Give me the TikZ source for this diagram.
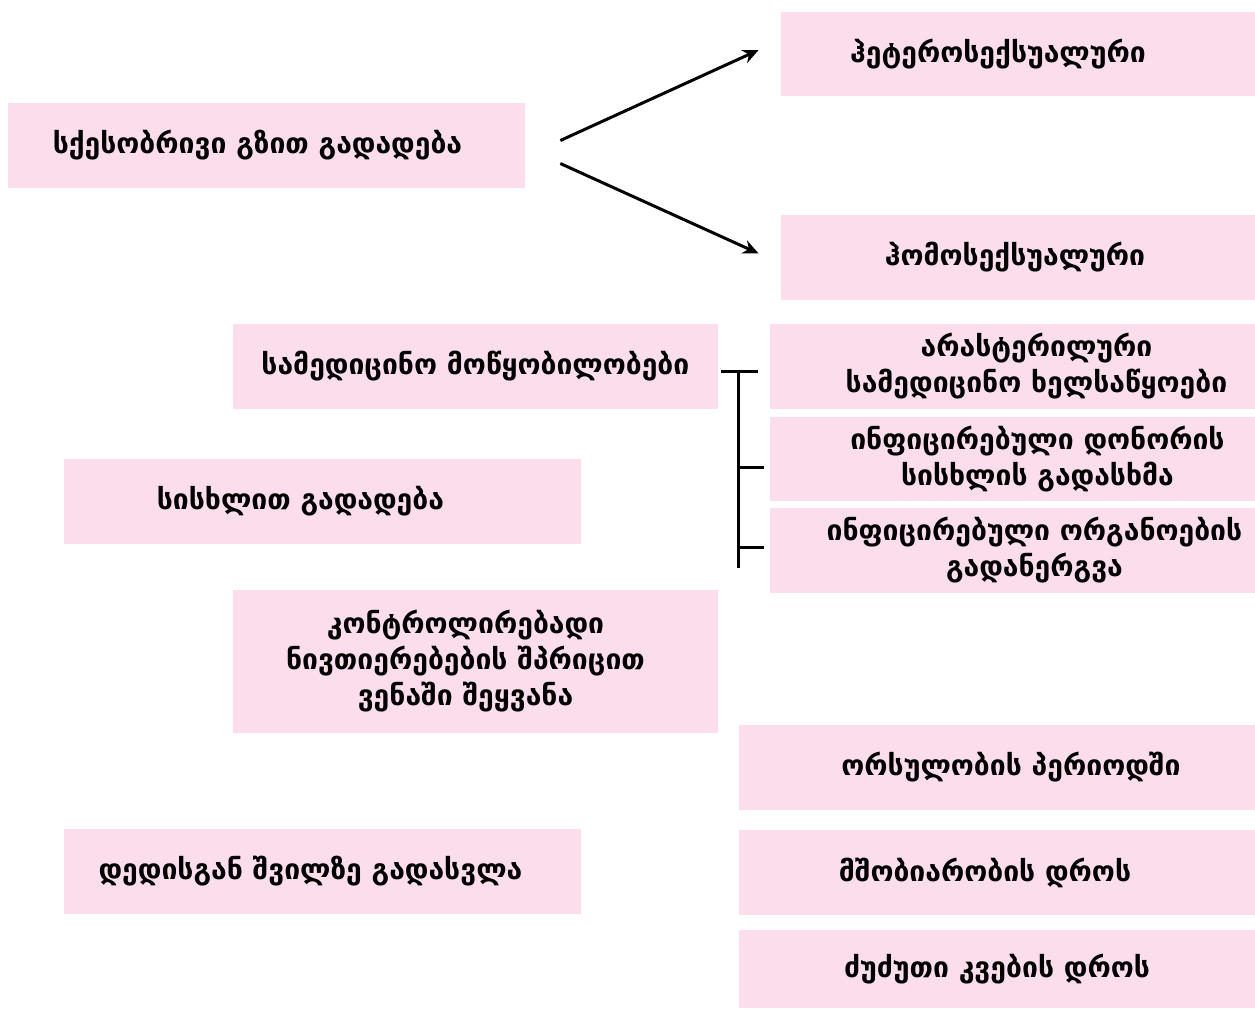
\documentclass[tikz,border=0pt]{standalone}
\usepackage{fontspec}
\usepackage{xcolor}
\usepackage{tikz}
\usetikzlibrary{calc, arrows.meta}
\newfontfamily\geofont{DejaVu Sans}
\definecolor{boxpink}{RGB}{251,221,236}
\tikzset{
    pinkbox/.style={fill=boxpink, draw=none, inner sep=0pt},
    boxtext/.style={inner sep=0pt, align=center,
        font=\geofont\bfseries\fontsize{16.1}{20.5}\selectfont},
    arr/.style={-{Stealth[length=9pt, width=8pt]}, line width=1.7pt},
    brk/.style={line width=1.7pt}
}

\begin{document}
\begin{tikzpicture}[x=0.02cm, y=-0.02cm]
        \useasboundingbox (0, 0) rectangle (1255, 1009);

        \node[pinkbox, minimum width=517*0.02cm, minimum height=85*0.02cm] (sex) at (266.5, 145.5) {};
        \node[boxtext] (sexT) at ([shift={(-9, 0)}]sex) {სქესობრივი გზით გადადება};
        \node[pinkbox, minimum width=474*0.02cm, minimum height=84*0.02cm] (het) at (1018, 54) {};
        \node[boxtext] (hetT) at ([shift={(-20, 0)}]het) {ჰეტეროსექსუალური};
        \node[pinkbox, minimum width=474*0.02cm, minimum height=85*0.02cm] (hom) at (1018, 257.5) {};
        \node[boxtext] (homT) at ([shift={(-3, 0)}]hom) {ჰომოსექსუალური};

        \draw[arr] ([shift={(35, -5)}]sex.east) -- ([shift={(-22, -4)}]het.west);
        \draw[arr] ([shift={(35, 18)}]sex.east) -- ([shift={(-22, -4)}]hom.west);

        %%%

        \node[pinkbox, minimum width=485*0.02cm, minimum height=85*0.02cm] (mob) at (475.5, 366.5) {};
        \node[boxtext] (mobT) at (mob) {სამედიცინო მოწყობილობები};
        \node[pinkbox, minimum width=485*0.02cm, minimum height=85*0.02cm] (aster) at (1012.5, 366.5) {};
        \node[boxtext] (asterT) at ([shift={(24, 0)}]aster) {არასტერილური\\სამედიცინო ხელსაწყოები};
        \node[pinkbox, minimum width=485*0.02cm, minimum height=84*0.02cm] (dono) at (1012.5, 459) {};
        \node[boxtext] (donoT) at ([shift={(25, 0)}]dono) {ინფიცირებული დონორის\\სისხლის გადასხმა};
        \node[pinkbox, minimum width=485*0.02cm, minimum height=85*0.02cm] (orga) at (1012.5, 550.5) {};
        \node[boxtext] (orgaT) at ([shift={(22, 0)}]orga) {ინფიცირებული ორგანოების\\გადანერგვა};
        \node[pinkbox, minimum width=517*0.02cm, minimum height=85*0.02cm] (blood) at (322.5, 501.5) {};
        \node[boxtext] (bloodT) at ([shift={(-22, 0)}]blood) {სისხლით გადადება};
        \node[pinkbox, minimum width=485*0.02cm, minimum height=143*0.02cm] (inj) at (475.5, 661.5) {};
        \node[boxtext] (injT) at ([shift={(-10, 0)}]inj) {კონტროლირებადი\\ნივთიერებების შპრიცით\\ვენაში შეყვანა};

        \coordinate (brtop) at (738, 371);
        \coordinate (brbot) at (738, 568);
        \draw[brk] ([shift={(3, 0)}]mob.east |- brtop) -- (758, 371);
        \draw[brk] (brtop) -- (brbot);
        \draw[brk] (738, 467) -- ([shift={(-6, 0)}]dono.west |- 0, 467);
        \draw[brk] (738, 547) -- ([shift={(-6, 0)}]orga.west |- 0, 547);

        %%%

        \node[pinkbox, minimum width=517*0.02cm, minimum height=85*0.02cm] (mother) at (322.5, 871.5) {};
        \node[boxtext] (motherT) at ([shift={(-12, 0)}]mother) {დედისგან შვილზე გადასვლა};
        \node[pinkbox, minimum width=516*0.02cm, minimum height=85*0.02cm] (preg) at (997, 767.5) {};
        \node[boxtext] (pregT) at ([shift={(14, 0)}]preg) {ორსულობის პერიოდში};
        \node[pinkbox, minimum width=516*0.02cm, minimum height=85*0.02cm] (birth) at (997, 872.5) {};
        \node[boxtext] (birthT) at ([shift={(-12, 0)}]birth) {მშობიარობის დროს};
        \node[pinkbox, minimum width=516*0.02cm, minimum height=78*0.02cm] (feed) at (997, 969) {};
        \node[boxtext] (feedT) at (feed) {ძუძუთი კვების დროს};
    \end{tikzpicture}
\end{document}
